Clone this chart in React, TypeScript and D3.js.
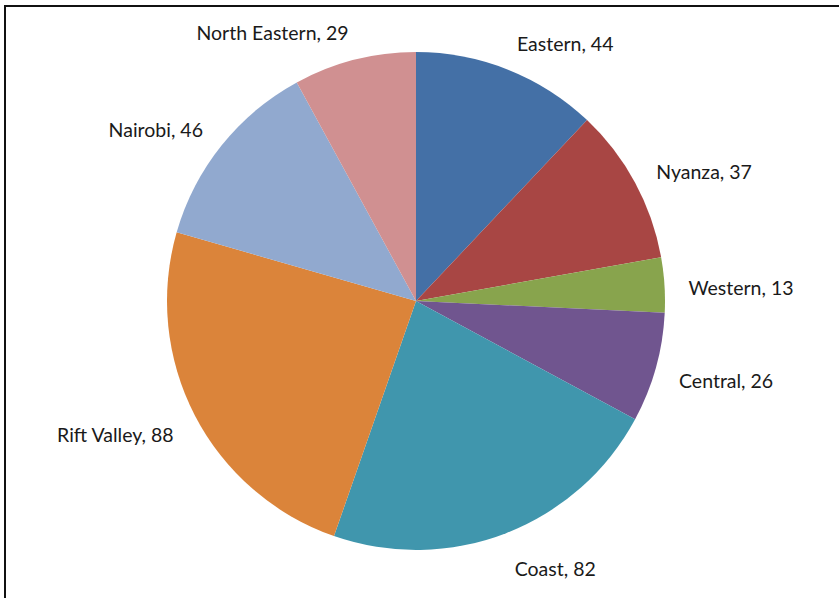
import React from "react";
import * as d3 from "d3";

const regions = ["Eastern", "Nyanza", "Western", "Central", "Coast", "Rift Valley", "Nairobi", "North Eastern"];
const counts = [44, 37, 13, 26, 82, 88, 46, 29];
const colors = ["#4470A6", "#A84644", "#88A44D", "#70558F", "#4096AD", "#DB843A", "#91A9CF", "#D09091"];

const W = 839;
const H = 598;
const cx = 416;
const cy = 301;
const R = 249;
const LABEL_R = R + 24;
const FONT = 19.5;

export default function App() {
  const data = regions.map((name, i) => ({ name, value: counts[i], color: colors[i] }));
  const pie = d3.pie<any>().value((d: any) => d.value).sort(null);
  const arcs = pie(data);
  const arc = d3.arc<any>().innerRadius(0).outerRadius(R);

  return (
    <svg width={W} height={H} style={{ position: "fixed", left: 0, top: 0 }}>
      <rect x={0} y={0} width={W} height={H} fill="#ffffff" />
      <path d={`M5,${H} L5,6 L${W},6`} fill="none" stroke="#111" strokeWidth={2} />
      <g transform={`translate(${cx},${cy})`}>
        {arcs.map((a, i) => (
          <path key={i} d={arc(a) as string} fill={a.data.color} />
        ))}
        {arcs.map((a, i) => {
          const mid = (a.startAngle + a.endAngle) / 2;
          const s = Math.sin(mid);
          const c = Math.cos(mid);
          const px = LABEL_R * s;
          const py = -LABEL_R * c;
          const yc = py - c * (FONT * 0.45) + 5;
          return (
            <text
              key={"l" + i}
              x={px}
              y={yc}
              dy="0.35em"
              textAnchor={s >= 0 ? "start" : "end"}
              fontFamily="Lato, 'Open Sans', sans-serif"
              fontSize={FONT}
              fill="#1a1a1a"
            >
              {`${a.data.name}, ${a.data.value}`}
            </text>
          );
        })}
      </g>
    </svg>
  );
}
